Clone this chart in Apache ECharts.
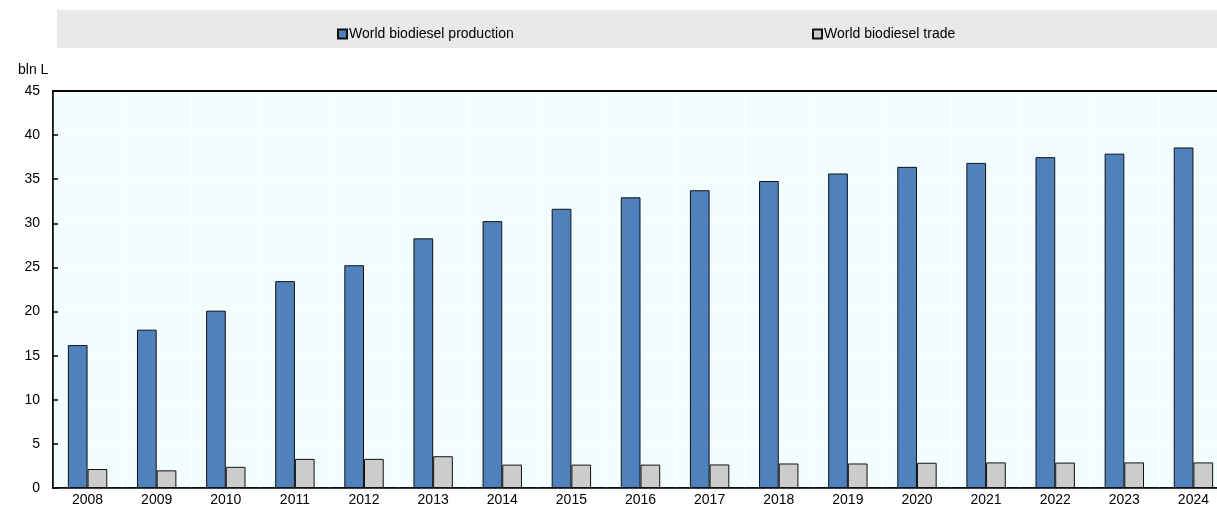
<!DOCTYPE html>
<html>
<head>
<meta charset="utf-8">
<script src="https://cdn.jsdelivr.net/npm/echarts@6/dist/echarts.min.js"></script>
<style>html,body{margin:0;padding:0;background:#fff;}#c{width:1217px;height:509px;}</style>
</head>
<body>
<div id="c"></div>
<script>
const years = ['2008','2009','2010','2011','2012','2013','2014','2015','2016','2017','2018','2019','2020','2021','2022','2023','2024'];
const production = [16.2, 17.95, 20.1, 23.45, 25.25, 28.3, 30.25, 31.65, 32.95, 33.75, 34.8, 35.65, 36.4, 36.85, 37.5, 37.9, 38.6];
const trade = [2.15, 2.0, 2.4, 3.3, 3.3, 3.6, 2.65, 2.65, 2.65, 2.67, 2.78, 2.78, 2.86, 2.9, 2.88, 2.9, 2.9];
const yTicks = {min: 0, max: 45, interval: 5};
const seriesNames = ['World biodiesel production', 'World biodiesel trade'];

const FONT = 'Arial, "Liberation Sans", sans-serif';
const chart = echarts.init(document.getElementById('c'));
chart.setOption({
  animation: false,
  graphic: [{type: 'rect', shape: {x: 57, y: 10, width: 1160, height: 38}, style: {fill: '#e9e9e9'}, z: -1}],
  legend: [
    {data: [seriesNames[0]], left: 332, top: 22, icon: 'rect', itemWidth: 9, itemHeight: 9, itemGap: 2,
     textStyle: {fontFamily: FONT, fontSize: 14, color: '#000', padding: [0,0,0,-3]}},
    {data: [seriesNames[1]], left: 807, top: 22, icon: 'rect', itemWidth: 9, itemHeight: 9, itemGap: 2,
     textStyle: {fontFamily: FONT, fontSize: 14, color: '#000', padding: [0,0,0,-3]}}
  ],
  grid: {left: 53, top: 91, width: 1175, height: 397, outerBoundsMode: 'none', containLabel: false,
         show: true, backgroundColor: '#f2fdfe', borderColor: '#000', borderWidth: 1.5},
  xAxis: [{
    type: 'category', data: years,
    axisLine: {lineStyle: {color: '#000', width: 1.5}},
    axisTick: {inside: true, length: 6, lineStyle: {color: '#000', width: 1.5}},
    axisLabel: {fontFamily: FONT, fontSize: 14, color: '#000', margin: 5},
    splitLine: {show: true, lineStyle: {color: '#ffffff', width: 1}}
  }, {
    type: 'category', data: years, position: 'top',
    axisLine: {show: true, lineStyle: {color: '#000', width: 2}},
    axisTick: {show: false}, axisLabel: {show: false}, splitLine: {show: false}
  }],
  yAxis: {
    type: 'value', min: yTicks.min, max: yTicks.max, interval: yTicks.interval,
    name: 'bln L', nameLocation: 'end', nameGap: 14,
    nameTextStyle: {fontFamily: FONT, fontSize: 14, color: '#000', align: 'left', padding: [0,0,0,-35]},
    axisLine: {show: true, lineStyle: {color: '#000', width: 1.5}},
    axisTick: {show: true, inside: true, length: 5, lineStyle: {color: '#000', width: 1.5}},
    axisLabel: {fontFamily: FONT, fontSize: 14, color: '#000', margin: 13},
    splitLine: {show: true, lineStyle: {color: '#ffffff', width: 1}}
  },
  series: [
    {name: seriesNames[0], type: 'bar', data: production, barGap: '0%', barCategoryGap: '43%',
     itemStyle: {color: '#4f81bd', borderColor: '#111', borderWidth: 1}},
    {name: seriesNames[1], type: 'bar', data: trade,
     itemStyle: {color: '#cccccc', borderColor: '#111', borderWidth: 1}}
  ]
});
</script>
</body>
</html>
